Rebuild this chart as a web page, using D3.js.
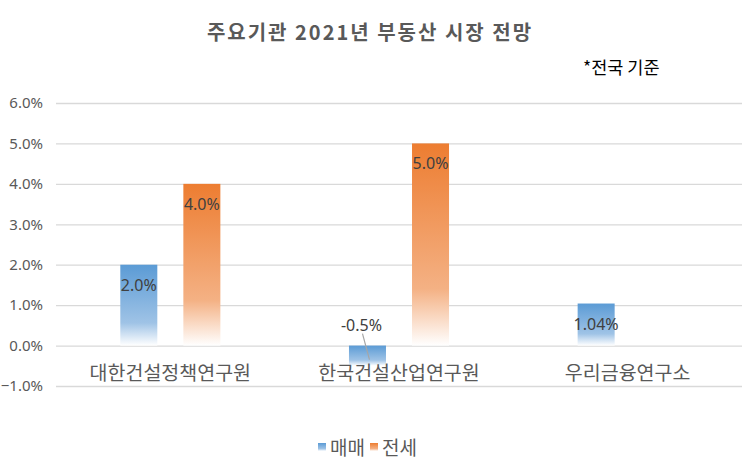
<!DOCTYPE html>
<html><head><meta charset="utf-8">
<script src="https://cdn.jsdelivr.net/npm/d3@7"></script>
<style>body{margin:0;background:#fff}svg{display:block}text{font-family:"Noto Sans CJK KR","Noto Sans",sans-serif}</style>
</head><body><svg id="c" width="742" height="473"></svg>
<script>
const categories = ["대한건설정책연구원","한국건설산업연구원","우리금융연구소"];
const seriesNames = ["매매","전세"];
const sale = [2.0, -0.5, 1.04];
const jeonse = [4.0, 5.0, null];
const saleLabels = ["2.0%","-0.5%","1.04%"];
const jeonseLabels = ["4.0%","5.0%",""];
const yTicks = [-1,0,1,2,3,4,5,6];

const svg = d3.select("#c");
const x = d3.scaleBand().domain(categories).range([56,742]);
const y = d3.scaleLinear().domain([-1,6]).range([386,103]);
const xs = d3.scaleBand().domain(seriesNames).range([0,x.bandwidth()]).paddingInner(0.413).paddingOuter(1.02);

const defs = svg.append("defs");
const grads = [["g0","#5b9bd5","#9fc3e6"],["g1","#ed7d31","#f4b184"]];
grads.forEach(([id,c1,c2])=>{
  const g=defs.append("linearGradient").attr("id",id).attr("x1",0).attr("y1",0).attr("x2",0).attr("y2",1);
  g.append("stop").attr("offset","0%").attr("stop-color",c1);
  g.append("stop").attr("offset","72%").attr("stop-color",c2);
  g.append("stop").attr("offset","100%").attr("stop-color","#ffffff");
});

const grid = svg.append("g").attr("transform","translate(56,0)")
  .call(d3.axisLeft(y).tickValues(yTicks).tickSize(-686).tickFormat(""));
grid.select(".domain").remove();
grid.selectAll("line").attr("stroke","#d9d9d9").attr("stroke-width",1.3);

const yax = svg.append("g").attr("transform","translate(43,0)")
  .call(d3.axisLeft(y).tickValues(yTicks).tickSize(0).tickPadding(0).tickFormat(d=>d3.format(".1f")(d)+"%"));
yax.select(".domain").remove();
yax.selectAll("text").attr("fill","#595959").style("font-size","15px").style("font-family","'Noto Sans','DejaVu Sans',sans-serif");

const data = [];
categories.forEach((c,i)=>{
  data.push({c,s:0,v:sale[i],lab:saleLabels[i]});
  if(jeonse[i]!=null) data.push({c,s:1,v:jeonse[i],lab:jeonseLabels[i]});
});

svg.append("g").selectAll("rect").data(data).join("rect")
  .attr("x",d=>x(d.c)+xs(seriesNames[d.s]))
  .attr("width",xs.bandwidth())
  .attr("y",d=>y(Math.max(0,d.v)))
  .attr("height",d=>Math.abs(y(d.v)-y(0)))
  .attr("fill",d=>`url(#g${d.s})`);

svg.append("g").selectAll("text").data(categories).join("text")
  .attr("x",d=>x(d)+x.bandwidth()/2).attr("y",380)
  .attr("text-anchor","middle").attr("fill","#595959").style("font-size","19.5px")
  .text(d=>d);

const lab = svg.append("g");
const lf = "'Noto Sans','DejaVu Sans',sans-serif";
data.forEach(d=>{
  const cx = x(d.c)+xs(seriesNames[d.s])+xs.bandwidth()/2;
  if(d.v>=0){
    lab.append("text").attr("x",cx).attr("y",y(d.v)+26).attr("text-anchor","middle")
      .attr("fill","#404040").style("font-size","16px").style("font-family",lf).text(d.lab);
  } else {
    lab.append("line").attr("x1",cx-5).attr("y1",y(0)-12).attr("x2",cx+2).attr("y2",y(0)+14)
      .attr("stroke","#a6a6a6").attr("stroke-width",1.2);
    lab.append("text").attr("x",cx-6).attr("y",y(0)-15).attr("text-anchor","middle")
      .attr("fill","#404040").style("font-size","16px").style("font-family",lf).text(d.lab);
  }
});

svg.append("text").attr("x",370).attr("y",40).attr("text-anchor","middle")
  .attr("fill","#595959").style("font-size","20px").style("font-weight","bold").style("letter-spacing","2px")
  .text("주요기관 2021년 부동산 시장 전망");
svg.append("text").attr("x",583).attr("y",74).attr("fill","#000").style("font-size","17.5px").text("*전국 기준");

const lg = svg.append("g");
const lx=[318,370];
seriesNames.forEach((n,i)=>{
  lg.append("rect").attr("x",lx[i]).attr("y",443).attr("width",8).attr("height",8).attr("fill",`url(#g${i})`);
  lg.append("text").attr("x",lx[i]+12).attr("y",455).attr("fill","#595959").style("font-size","19px").text(n);
});
</script></body></html>
